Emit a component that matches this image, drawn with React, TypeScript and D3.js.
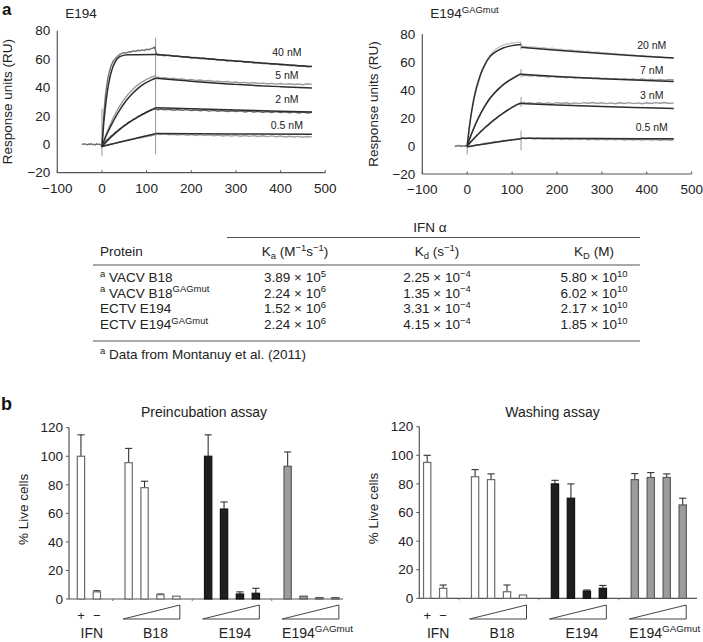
import * as React from "react"
import * as d3 from "d3"

const FONT = "'Liberation Sans', Arial, Helvetica, sans-serif"
type Pt = [number, number]

// ---------- a: sensorgrams (time in s, response in RU) ----------
const timeTicks = [-100, 0, 100, 200, 300, 400, 500]
const ruTicks = [-20, 0, 20, 40, 60, 80]

// E194
const e194Conc = ["40 nM", "5 nM", "2 nM", "0.5 nM"]
const e194LabelRU = [64.5, 48.5, 31.5, 13.2]
const e194Baseline: Pt[] = [[-45, 0.3], [-42, -0.2], [-39, 0.4], [-36, 0], [-33, -0.4], [-30, 0.2], [-27, -0.1], [-24, 0.5], [-21, -0.3], [-18, 0.1], [-15, -0.4], [-12, 0.3], [-9, -0.2], [-6, 0.2], [-3, -0.5], [0, -1]]
const e194Raw40: Pt[] = [[0, -2], [2, 10], [4, 20], [6, 28], [8, 35], [10, 40], [13, 46], [16, 50.5], [20, 55], [25, 58.5], [30, 60.5], [35, 62], [40, 63.3], [45, 64], [50, 64.6], [55, 64.3], [60, 65.2], [65, 65], [70, 65.8], [75, 65.4], [80, 66.2], [85, 65.9], [90, 66.5], [95, 66.1], [100, 66.9], [105, 66.6], [110, 67.4], [115, 67.8], [118, 68.5], [122, 63.4], [126, 62.6], [130, 63.1], [140, 62.4], [150, 62.8], [160, 61.9], [170, 62.2], [180, 61.4], [190, 61.8], [200, 60.8], [210, 61.2], [220, 60.4], [230, 60.6], [240, 59.8], [250, 60.1], [260, 59.3], [270, 59.6], [280, 58.7], [290, 59.1], [300, 58.3], [310, 58.6], [320, 57.8], [330, 58], [340, 57.3], [350, 57.6], [360, 56.8], [370, 57], [380, 56.3], [390, 56.6], [400, 55.8], [410, 56.1], [420, 55.4], [430, 55.7], [440, 55], [450, 55.3], [460, 54.6], [470, 54.9]]
const e194Raw5: Pt[] = [[0, -1], [5, 3.5], [10, 7.5], [15, 11.5], [20, 15], [25, 18.5], [30, 21.5], [35, 24.5], [40, 27], [45, 29.5], [50, 31.8], [55, 33.8], [60, 35.7], [65, 37.4], [70, 39], [75, 40.5], [80, 41.7], [85, 42.9], [90, 44], [95, 44.8], [100, 45.8], [105, 46.4], [110, 47.2], [115, 47.6], [118, 48.3], [122, 46.8], [126, 47.3], [130, 46.5], [140, 46.9], [150, 46.2], [160, 46.5], [170, 45.8], [180, 46.1], [190, 45.4], [200, 45.7], [210, 45], [220, 45.3], [230, 44.6], [240, 44.9], [250, 44.2], [260, 44.5], [270, 43.9], [280, 44.2], [290, 43.6], [300, 43.9], [310, 43.3], [320, 43.6], [330, 43], [340, 43.4], [350, 42.8], [360, 43.1], [370, 42.6], [380, 42.9], [390, 42.4], [400, 42.8], [410, 42.2], [420, 42.6], [430, 42.1], [440, 42.5], [450, 41.9], [460, 42.6], [470, 42.2]]
const e194Raw2: Pt[] = [[0, -1.5], [5, 0.5], [10, 2.8], [15, 4], [20, 5.8], [25, 6.9], [30, 8.5], [35, 9.5], [40, 11], [45, 12], [50, 13.4], [55, 14.2], [60, 15.6], [65, 16.3], [70, 17.6], [75, 18.3], [80, 19.5], [85, 20.1], [90, 21.3], [95, 21.8], [100, 22.9], [105, 23.4], [110, 24.3], [115, 24.6], [118, 25.2], [122, 24.8], [126, 24.2], [130, 24.9], [140, 24.3], [150, 24.7], [160, 24], [170, 24.5], [180, 23.9], [190, 24.4], [200, 23.7], [210, 24.2], [220, 23.6], [230, 24.1], [240, 23.4], [250, 23.9], [260, 23.3], [270, 23.8], [280, 23.1], [290, 23.6], [300, 23], [310, 23.5], [320, 22.8], [330, 23.4], [340, 22.7], [350, 23.2], [360, 22.5], [370, 23.1], [380, 22.4], [390, 23], [400, 22.3], [410, 22.9], [420, 22.2], [430, 22.8], [440, 22.1], [450, 22.7], [460, 22], [470, 22.6]]
const e194Raw05: Pt[] = [[0, -1.5], [10, -0.6], [20, 0.3], [30, 0.8], [40, 1.7], [50, 2.2], [60, 3], [70, 3.5], [80, 4.3], [90, 4.8], [100, 5.5], [110, 6], [118, 6.6], [122, 7.4], [130, 6.8], [140, 7.3], [150, 6.7], [160, 7.1], [170, 6.5], [180, 7], [190, 6.3], [200, 6.9], [210, 6.2], [220, 6.8], [230, 6.1], [240, 6.6], [250, 6], [260, 6.5], [270, 5.9], [280, 6.4], [290, 5.8], [300, 6.3], [310, 5.7], [320, 6.2], [330, 5.6], [340, 6.1], [350, 5.5], [360, 6], [370, 5.4], [380, 5.9], [390, 5.3], [400, 5.8], [410, 5.2], [420, 5.7], [430, 5.1], [440, 5.6], [450, 5], [460, 5.5], [470, 5.2]]
const e194FitAssoc: Pt[][] = [
  [[0, -2], [4, 15], [8, 27], [12, 37], [16, 44.5], [20, 50], [25, 55], [30, 58.3], [35, 60.4], [40, 61.7], [50, 62.8], [60, 63.1], [120, 63.2]],
  [[0, -1.5], [10, 6.5], [20, 13], [30, 19], [40, 24.3], [50, 28.9], [60, 32.9], [70, 36.3], [80, 39.2], [90, 41.6], [100, 43.6], [110, 45.2], [120, 46.5]],
  [[0, -1.5], [20, 5], [40, 10.5], [60, 15.2], [80, 19.2], [100, 22.6], [120, 25.6]],
  [[0, -1.5], [30, 0.8], [60, 3.1], [90, 5.3], [120, 7.4]],
]
const e194FitDiss: Pt[][] = [
  [[120, 63.5], [150, 62.6], [200, 61.2], [250, 59.9], [300, 58.6], [350, 57.4], [400, 56.3], [450, 55.2], [470, 54.8]],
  [[120, 46.5], [160, 45.4], [200, 44.4], [250, 43.2], [300, 42.2], [350, 41.3], [400, 40.6], [470, 39.7]],
  [[120, 25.8], [200, 25], [300, 24.1], [400, 23.3], [470, 22.8]],
  [[120, 7.6], [300, 7.3], [470, 7]],
]
const e194Spikes = [[0, -8, 25], [120, -7, 75]]

// E194 GAGmut
const gagConc = ["20 nM", "7 nM", "3 nM", "0.5 nM"]
const gagLabelRU = [72, 54.3, 36.4, 13.6]
const gagBaseline: Pt[] = [[-28, 0.2], [-25, -0.3], [-22, 0.4], [-19, -0.1], [-16, 0.3], [-13, -0.4], [-10, 0.2], [-7, -0.2], [-4, 0.3], [-1, -0.4], [0, -0.5]]
const gagRaw20: Pt[] = [[0, 0], [3, 8], [6, 16], [9, 22.5], [12, 28], [15, 33], [18, 37], [21, 40.5], [25, 45], [30, 50.5], [35, 55], [40, 58.8], [45, 62], [50, 64.5], [55, 66.5], [60, 68], [65, 69.4], [70, 70.5], [75, 71.3], [80, 72], [85, 72.5], [90, 73], [95, 73.2], [100, 73.6], [105, 73.7], [110, 74], [115, 74.1], [118, 74.3], [122, 71.5], [126, 70.8], [130, 71.2], [140, 70.5], [150, 70.8], [160, 70], [170, 70.3], [180, 69.5], [190, 69.8], [200, 69], [210, 69.2], [220, 68.5], [230, 68.7], [240, 68], [250, 68.2], [260, 67.4], [270, 67.7], [280, 66.9], [290, 67.2], [300, 66.4], [310, 66.6], [320, 65.9], [330, 66.1], [340, 65.4], [350, 65.6], [360, 64.9], [370, 65.1], [380, 64.4], [390, 64.6], [400, 63.9], [410, 64.2], [420, 63.5], [430, 63.7], [440, 63.1], [450, 63.3], [460, 62.8]]
const gagRaw7: Pt[] = [[0, 0], [5, 5], [10, 9.3], [15, 13], [20, 16.9], [25, 20.2], [30, 23.4], [35, 26.3], [40, 29.1], [45, 31.4], [50, 33.9], [55, 35.8], [60, 37.8], [65, 39.4], [70, 41.2], [75, 42.5], [80, 44], [85, 45.1], [90, 46.4], [95, 47.3], [100, 48.4], [105, 49.2], [110, 50.2], [115, 50.8], [118, 51.6], [122, 50.8], [126, 50.2], [130, 50.7], [140, 50], [150, 50.4], [160, 49.6], [170, 50], [180, 49.3], [190, 49.7], [200, 49], [210, 49.4], [220, 48.8], [230, 49.2], [240, 48.6], [250, 49], [260, 48.4], [270, 48.8], [280, 48.2], [290, 48.6], [300, 48], [310, 48.4], [320, 47.8], [330, 48.2], [340, 47.6], [350, 48.1], [360, 47.5], [370, 47.9], [380, 47.4], [390, 47.8], [400, 47.2], [410, 47.7], [420, 47.1], [430, 47.6], [440, 47], [450, 47.5], [460, 47.1]]
const gagRaw3: Pt[] = [[0, 0], [5, 1.5], [10, 3.8], [15, 5.2], [20, 7.3], [25, 8.6], [30, 10.5], [35, 11.7], [40, 13.5], [45, 14.6], [50, 16.3], [55, 17.3], [60, 18.9], [65, 19.8], [70, 21.4], [75, 22.2], [80, 23.7], [85, 24.4], [90, 25.8], [95, 26.5], [100, 27.8], [105, 28.3], [110, 29.6], [115, 29.9], [118, 30.8], [122, 30.6], [126, 31.2], [130, 30.5], [140, 31], [150, 30.3], [160, 30.9], [170, 30.2], [180, 30.8], [190, 30.3], [200, 31], [210, 30.4], [220, 30.9], [230, 30.2], [240, 30.8], [250, 30.3], [260, 31], [270, 30.5], [280, 31.1], [290, 30.4], [300, 30.9], [310, 30.3], [320, 30.8], [330, 30.2], [340, 30.9], [350, 30.4], [360, 31], [370, 30.3], [380, 30.8], [390, 30.2], [400, 30.9], [410, 30.4], [420, 31], [430, 30.5], [440, 31.1], [450, 30.4], [460, 30.8]]
const gagRaw05: Pt[] = [[0, -0.5], [10, -0.3], [20, 0.8], [30, 1], [40, 2], [50, 2.1], [60, 3], [70, 3.1], [80, 3.9], [90, 4], [100, 4.7], [110, 4.8], [118, 5.3], [122, 5.8], [130, 5.2], [140, 5.7], [150, 5], [160, 5.5], [170, 4.9], [180, 5.4], [190, 4.8], [200, 5.3], [210, 4.7], [220, 5.2], [230, 4.6], [240, 5.2], [250, 4.6], [260, 5.1], [270, 4.5], [280, 5], [290, 4.5], [300, 5], [310, 4.4], [320, 4.9], [330, 4.4], [340, 4.9], [350, 4.3], [360, 4.8], [370, 4.3], [380, 4.8], [390, 4.2], [400, 4.7], [410, 4.2], [420, 4.7], [430, 4.1], [440, 4.6], [450, 4.1], [460, 4.5]]
const gagFitAssoc: Pt[][] = [
  [[0, 0], [5, 14], [10, 25], [15, 34], [20, 41], [25, 46.5], [30, 51.5], [40, 58.5], [50, 63.5], [60, 66.5], [70, 68.5], [80, 70], [90, 71], [100, 71.7], [110, 72.2], [120, 72.5]],
  [[0, 0], [10, 8.9], [20, 16.6], [30, 23.1], [40, 28.8], [50, 33.7], [60, 37.5], [70, 40.8], [80, 43.6], [90, 46], [100, 48], [110, 49.9], [120, 51.5]],
  [[0, 0], [10, 3.6], [20, 7], [30, 10.2], [40, 13.2], [50, 16], [60, 18.6], [70, 21.1], [80, 23.4], [90, 25.6], [100, 27.6], [110, 29.4], [120, 30.5]],
  [[0, -0.5], [30, 1], [60, 2.5], [90, 3.9], [120, 5.2]],
]
const gagFitDiss: Pt[][] = [
  [[120, 70.5], [200, 68.4], [300, 66], [400, 64], [460, 62.8]],
  [[120, 51.3], [200, 49.7], [300, 48.1], [400, 46.8], [460, 46.1]],
  [[120, 30.3], [200, 29.3], [300, 28.2], [400, 27.3], [460, 26.8]],
  [[120, 5.6], [300, 5.3], [460, 5.1]],
]
const gagSpikes = [[0, -6, 3], [120, -3, 11], [120, 28, 35], [120, 49, 55], [120, 69, 74]]

// ---------- kinetics table ----------
const proteinNames = ["^{a} VACV B18", "^{a} VACV B18^{GAGmut}", "ECTV E194", "ECTV E194^{GAGmut}"]
const kaMantissa = [3.89, 2.24, 1.52, 2.24]
const kaExponent = [5, 6, 6, 6]
const kdMantissa = [2.25, 1.35, 3.31, 4.15]
const kdExponent = [-4, -4, -4, -4]
const KDMantissa = [5.8, 6.02, 2.17, 1.85]
const KDExponent = [10, 10, 10, 10]

// ---------- b: cell protection assays (% live cells) ----------
const barGroups = ["IFN", "B18", "E194", "E194^{GAGmut}"]
const liveTicks = [0, 20, 40, 60, 80, 100, 120]
const preValues = [[100, 5], [95.5, 78, 3, 2], [100, 63, 3.5, 4], [93, 2, 1, 1]]
const preErrors = [[15, 0.8], [10, 4.5, 0.5, 0], [15, 5, 1.5, 3.5], [10, 0, 0, 0]]
const washValues = [[95, 7], [85, 83, 4.6, 2.3], [80, 70, 5, 7], [83, 84.5, 84.5, 65.3]]
const washErrors = [[5, 2.3], [5, 4, 4.7, 0], [2.5, 10, 0.8, 2], [4.2, 3.4, 2.5, 4.7]]

// "a^{b}" / "a_{b}" -> tspans
function Rich({ x, y, text, size, anchor = "start", weight = "normal", fill = "#222", transform }: any) {
  const parts = text.split(/(\^\{[^}]*\}|_\{[^}]*\})/).filter((s: string) => s.length)
  let cur = 0
  return (
    <text x={x} y={y} textAnchor={anchor} fontSize={size} fontWeight={weight} fill={fill} transform={transform} fontFamily={FONT}>
      {parts.map((p: string, i: number) => {
        let kind = 0
        let t = p
        if (p.startsWith("^{")) { kind = 1; t = p.slice(2, -1) }
        else if (p.startsWith("_{")) { kind = 2; t = p.slice(2, -1) }
        const target = kind === 1 ? -size * 0.4 : kind === 2 ? size * 0.25 : 0
        const dy = target - cur
        cur = target
        return (
          <tspan key={i} dy={dy} fontSize={kind ? size * 0.7 : size}>{t}</tspan>
        )
      })}
    </text>
  )
}

function Sensorgram({ x0, x1, yTop, yBottom, title, ylabelX, baseline, raw, rawColors, fitAssoc, fitDiss, spikes, conc, labelT, labelRU }: any) {
  const x = d3.scaleLinear().domain([-100, 500]).range([x0, x1])
  const y = d3.scaleLinear().domain([-20, 80]).range([yBottom, yTop])
  const line = d3.line<Pt>().x((d) => x(d[0])).y((d) => y(d[1]))
  const smooth = d3.line<Pt>().x((d) => x(d[0])).y((d) => y(d[1])).curve(d3.curveMonotoneX)
  return (
    <g fontFamily={FONT}>
      <Rich x={x0 + 8} y={18} text={title} size={13.5} />
      <line x1={x0} x2={x0} y1={yBottom} y2={yTop} stroke="#555" strokeWidth={1.2} />
      <line x1={x0} x2={x1} y1={yBottom} y2={yBottom} stroke="#555" strokeWidth={1.2} />
      {ruTicks.map((t) => (
        <text key={t} x={x0 - 7} y={y(t)} dy="0.35em" textAnchor="end" fontSize={13.5} fill="#222">
          {t < 0 ? `\u2212${-t}` : t}
        </text>
      ))}
      {timeTicks.map((t) => (
        <g key={t}>
          <line x1={x(t)} x2={x(t)} y1={yBottom} y2={yBottom - 2.5} stroke="#555" strokeWidth={1} />
          <text x={x(t)} y={yBottom + 20} textAnchor="middle" fontSize={13.5} fill="#222">
            {t < 0 ? `\u2212${-t}` : t}
          </text>
        </g>
      ))}
      <text transform={`translate(${ylabelX},${(yTop + yBottom) / 2}) rotate(-90)`} textAnchor="middle" fontSize={13.5} fill="#222">
        Response units (RU)
      </text>
      {spikes.map((s: number[], i: number) => (
        <line key={i} x1={x(s[0])} x2={x(s[0])} y1={y(s[1])} y2={y(s[2])} stroke="#a0a0a0" strokeWidth={1.1} />
      ))}
      <path d={line(baseline) || ""} fill="none" stroke="#6a6a6a" strokeWidth={1.3} />
      {raw.map((r: Pt[], i: number) => (
        <path key={i} d={line(r) || ""} fill="none" stroke={rawColors[i]} strokeWidth={1.4} />
      ))}
      {fitAssoc.map((f: Pt[], i: number) => (
        <path key={"a" + i} d={smooth(f) || ""} fill="none" stroke="#2e2e2e" strokeWidth={1.5} />
      ))}
      {fitDiss.map((f: Pt[], i: number) => (
        <path key={"d" + i} d={smooth(f) || ""} fill="none" stroke="#2e2e2e" strokeWidth={1.5} />
      ))}
      {conc.map((c: string, i: number) => (
        <text key={c} x={x(labelT)} y={y(labelRU[i])} dy="0.35em" textAnchor="middle" fontSize={10.5} fill="#222">
          {c}
        </text>
      ))}
    </g>
  )
}

const groupFill = ["#ffffff", "#ffffff", "#1e1e1e", "#9c9c9c"]
const groupStroke = ["#6c6c6c", "#6c6c6c", "#111111", "#5c5c5c"]

function BarPanel({ title, titleX, values, errors, slotX0, step, axisX0, axisX1, yZero, yTop, ylabelX }: any) {
  const slots: { key: string; g: number; j: number }[] = []
  values.forEach((vals: number[], g: number) => {
    if (g > 0) slots.push({ key: `gap${g}`, g: -1, j: -1 })
    vals.forEach((_v, j) => slots.push({ key: `${g}-${j}`, g, j }))
  })
  const x = d3.scaleBand<string>().domain(slots.map((s) => s.key)).range([slotX0, slotX0 + step * slots.length])
  const cx = (k: string) => (x(k) as number) + x.bandwidth() / 2
  const y = d3.scaleLinear().domain([0, 120]).range([yZero, yTop])
  const bw = 7.3
  const wedgeTop = 605
  const wedgeBottom = 619
  return (
    <g fontFamily={FONT}>
      <text x={titleX} y={417} textAnchor="middle" fontSize={14} fill="#222">{title}</text>
      <line x1={axisX0} x2={axisX0} y1={yZero} y2={yTop} stroke="#555" strokeWidth={1.2} />
      <line x1={axisX0} x2={axisX1} y1={yZero} y2={yZero} stroke="#555" strokeWidth={1.2} />
      {liveTicks.map((t) => (
        <g key={t}>
          <line x1={axisX0 - 3} x2={axisX0} y1={y(t)} y2={y(t)} stroke="#555" strokeWidth={1} />
          <text x={axisX0 - 6} y={y(t)} dy="0.35em" textAnchor="end" fontSize={13.5} fill="#222">{t}</text>
        </g>
      ))}
      {slots.filter((s) => s.g < 0).map((s) => (
        <line key={s.key} x1={cx(s.key)} x2={cx(s.key)} y1={yZero} y2={yZero + 2} stroke="#777" strokeWidth={1} />
      ))}
      <text transform={`translate(${ylabelX},${(yTop + yZero) / 2 - 4}) rotate(-90)`} textAnchor="middle" fontSize={13.5} fill="#222">
        % Live cells
      </text>
      {slots.filter((s) => s.g >= 0).map((s) => {
        const v = values[s.g][s.j]
        const e = errors[s.g][s.j]
        const c = cx(s.key)
        return (
          <g key={s.key}>
            {e > 0 && (
              <g stroke="#333" strokeWidth={1.1}>
                <line x1={c} x2={c} y1={y(v)} y2={y(v + e)} />
                <line x1={c - 3.6} x2={c + 3.6} y1={y(v + e)} y2={y(v + e)} />
              </g>
            )}
            <rect x={c - bw / 2} y={y(v)} width={bw} height={yZero - y(v)} fill={groupFill[s.g]} stroke={groupStroke[s.g]} strokeWidth={1.2} />
          </g>
        )
      })}
      {barGroups.map((name, g) => {
        const keys = values[g].map((_v: number, j: number) => `${g}-${j}`)
        const first = cx(keys[0])
        const last = cx(keys[keys.length - 1])
        const mid = (first + last) / 2
        return (
          <g key={name}>
            {g === 0 ? (
              <>
                <text x={first} y={619.5} textAnchor="middle" fontSize={13} fill="#222">+</text>
                <text x={last} y={619.5} textAnchor="middle" fontSize={13} fill="#222">{"\u2212"}</text>
              </>
            ) : (
              <polygon
                points={`${first - 5.5},${wedgeBottom} ${last + 3.5},${wedgeTop} ${last + 3.5},${wedgeBottom}`}
                fill="#fff"
                stroke="#444"
                strokeWidth={1}
              />
            )}
            <Rich x={mid + (g === 3 ? 6 : 3)} y={638} text={name} size={14} anchor="middle" />
          </g>
        )
      })}
    </g>
  )
}

function sci(m: number, e: number) {
  const exp = e < 0 ? `\u2212${-e}` : `${e}`
  return `${m.toFixed(2)} \u00d7 10^{${exp}}`
}

function KineticsTable() {
  const left = 93
  const right = 640
  const textX = 100
  const colKa = 295
  const colKd = 437
  const colKD = 594
  const fs = 13.5
  const rowY = d3.scaleLinear().domain([0, 3]).range([282, 329])
  return (
    <g fontFamily={FONT} fill="#222">
      <Rich x={430} y={232} text={"IFN \u03b1"} size={fs} anchor="middle" />
      <line x1={227} x2={right} y1={237.5} y2={237.5} stroke="#555" strokeWidth={1.1} />
      <Rich x={textX} y={256} text="Protein" size={fs} />
      <Rich x={colKa} y={256} text={"K_{a} (M^{\u22121}s^{\u22121})"} size={fs} anchor="middle" />
      <Rich x={colKd} y={256} text={"K_{d} (s^{\u22121})"} size={fs} anchor="middle" />
      <Rich x={colKD} y={256} text={"K_{D} (M)"} size={fs} anchor="middle" />
      <line x1={left} x2={right} y1={265} y2={265} stroke="#555" strokeWidth={1.1} />
      {proteinNames.map((p, i) => (
        <g key={p}>
          <Rich x={textX} y={rowY(i)} text={p} size={fs} />
          <Rich x={colKa} y={rowY(i)} text={sci(kaMantissa[i], kaExponent[i])} size={fs} anchor="middle" />
          <Rich x={colKd} y={rowY(i)} text={sci(kdMantissa[i], kdExponent[i])} size={fs} anchor="middle" />
          <Rich x={colKD} y={rowY(i)} text={sci(KDMantissa[i], KDExponent[i])} size={fs} anchor="middle" />
        </g>
      ))}
      <line x1={left} x2={right} y1={341} y2={341} stroke="#555" strokeWidth={1.1} />
      <Rich x={textX} y={359} text="^{a} Data from Montanuy et al. (2011)" size={fs} />
    </g>
  )
}

export default function App() {
  return (
    <svg width={703} height={642} viewBox="0 0 703 642" style={{ position: "absolute", left: 0, top: 0, background: "#fff" }}>
      <rect width={703} height={642} fill="#fff" />
      <text x={2} y={15} fontSize={17} fontWeight="bold" fontFamily={FONT} fill="#111">a</text>
      <text x={1} y={410} fontSize={18} fontWeight="bold" fontFamily={FONT} fill="#111">b</text>
      <Sensorgram
        x0={57.3} x1={325.3} yTop={30.7} yBottom={172.7}
        title="E194" ylabelX={12}
        baseline={e194Baseline}
        raw={[e194Raw40, e194Raw5, e194Raw2, e194Raw05]}
        rawColors={["#727272", "#9c9c9c", "#626262", "#a2a2a2"]}
        fitAssoc={e194FitAssoc} fitDiss={e194FitDiss} spikes={e194Spikes}
        conc={e194Conc} labelT={414} labelRU={e194LabelRU}
      />
      <Sensorgram
        x0={422.3} x1={691.7} yTop={34} yBottom={174}
        title="E194^{GAGmut}" ylabelX={378}
        baseline={gagBaseline}
        raw={[gagRaw20, gagRaw7, gagRaw3, gagRaw05]}
        rawColors={["#c6c6c6", "#9a9a9a", "#9a9a9a", "#9a9a9a"]}
        fitAssoc={gagFitAssoc} fitDiss={gagFitDiss} spikes={gagSpikes}
        conc={gagConc} labelT={411} labelRU={gagLabelRU}
      />
      <KineticsTable />
      <BarPanel
        title="Preincubation assay" titleX={204}
        values={preValues} errors={preErrors}
        slotX0={73} step={15.9} axisX0={69} axisX1={343}
        yZero={599} yTop={427.7} ylabelX={28}
      />
      <BarPanel
        title="Washing assay" titleX={552.5}
        values={washValues} errors={washErrors}
        slotX0={419.2} step={15.97} axisX0={419.3} axisX1={697}
        yZero={598.3} yTop={426.7} ylabelX={378}
      />
    </svg>
  )
}
